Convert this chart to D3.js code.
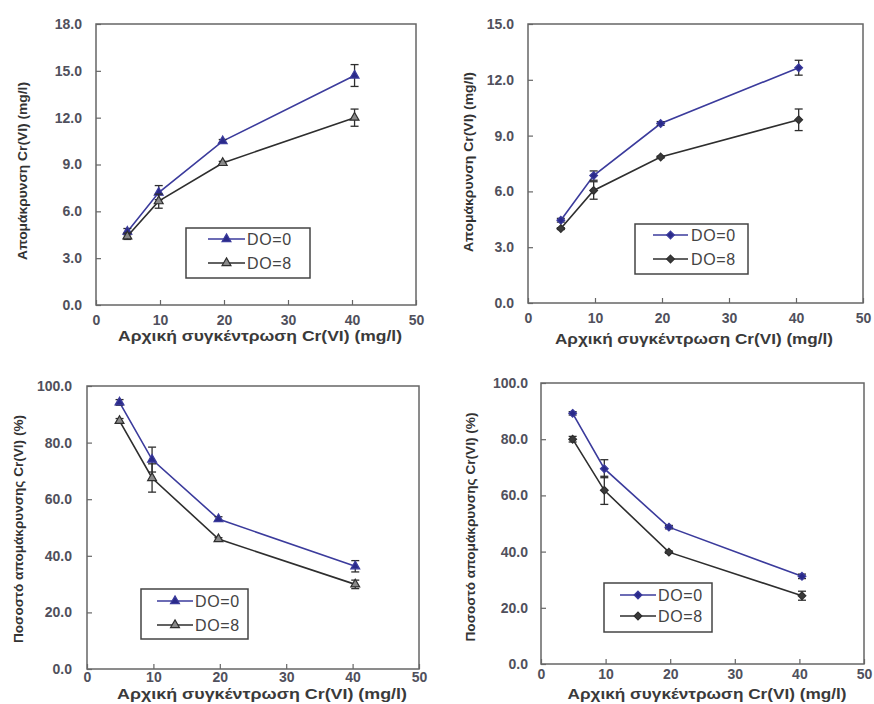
<!DOCTYPE html>
<html lang="el">
<head>
<meta charset="UTF-8">
<title>Cr(VI) removal</title>
<script src="https://cdnjs.cloudflare.com/ajax/libs/d3/7.9.0/d3.min.js"></script>
<style>
  body { margin: 0; background: #fff; }
  svg text { font-family: "Liberation Sans", Arial, sans-serif; }
</style>
</head>
<body>
<svg id="chart" width="874" height="704"></svg>
<script>
// initial Cr(VI) concentration (x values, mg/l)
const conc = [4.9, 9.8, 19.8, 40.4];
const seriesNames = ["DO=0", "DO=8"];

// panel A: removal (mg/l), triangles
const removalA_DO0 = [4.7, 7.2, 10.5, 14.7];
const removalA_DO0_err = [0.2, 0.45, 0.1, 0.7];
const removalA_DO8 = [4.4, 6.65, 9.1, 12.0];
const removalA_DO8_err = [0.2, 0.45, 0.1, 0.55];

// panel B: removal (mg/l), diamonds
const removalB_DO0 = [4.45, 6.85, 9.65, 12.65];
const removalB_DO0_err = [0.1, 0.25, 0.1, 0.4];
const removalB_DO8 = [4.0, 6.05, 7.85, 9.85];
const removalB_DO8_err = [0.05, 0.47, 0.05, 0.58];

// panel C: removal percent, triangles
const percentC_DO0 = [94.2, 74.0, 53.0, 36.3];
const percentC_DO0_err = [1.0, 4.4, 0.8, 2.0];
const percentC_DO8 = [87.7, 67.5, 45.9, 29.9];
const percentC_DO8_err = [0.8, 5.0, 0.5, 1.5];

// panel D: removal percent, diamonds
const percentD_DO0 = [89.2, 69.5, 48.7, 31.2];
const percentD_DO0_err = [0.6, 3.2, 0.6, 0.8];
const percentD_DO8 = [80.0, 61.8, 39.8, 24.3];
const percentD_DO8_err = [1.0, 5.0, 0.4, 1.6];

const xTicks = [0, 10, 20, 30, 40, 50];
const yTicksMg18 = [0, 3, 6, 9, 12, 15, 18];
const yTicksMg15 = [0, 3, 6, 9, 12, 15];
const yTicksPct = [0, 20, 40, 60, 80, 100];

const xTitle = "Αρχική συγκέντρωση Cr(VI) (mg/l)";
const yTitleMg = "Απομάκρυνση Cr(VI) (mg/l)";
const yTitlePct = "Ποσοστό απομάκρυνσης Cr(VI) (%)";

const blue = "#3b3b9c";
const dark = "#2e2e2e";

const svg = d3.select("#chart");

function drawPanel(p) {
  const x = d3.scaleLinear().domain([0, 50]).range([p.left, p.right]);
  const y = d3.scaleLinear().domain([0, p.yMax]).range([p.bottom, p.top]);
  const g = svg.append("g");

  // frame
  g.append("rect")
    .attr("x", p.left).attr("y", p.top)
    .attr("width", p.right - p.left).attr("height", p.bottom - p.top)
    .attr("fill", "none").attr("stroke", "#666").attr("stroke-width", 1.5);

  // axes with inward ticks
  const xa = g.append("g").attr("transform", `translate(0,${p.bottom})`)
    .call(d3.axisBottom(x).tickValues(xTicks).tickSize(-5).tickPadding(p.xPad).tickFormat(d3.format("d")));
  const ya = g.append("g").attr("transform", `translate(${p.left},0)`)
    .call(d3.axisLeft(y).tickValues(p.yTicks).tickSize(-5).tickPadding(p.yPad).tickFormat(d3.format(".1f")));
  [xa, ya].forEach(a => {
    a.select(".domain").remove();
    a.selectAll("line").attr("stroke", "#666").attr("stroke-width", 1.2);
    a.selectAll("text").attr("fill", "#50505c").style("font-size", "14px").style("font-weight", "bold");
  });
  xa.selectAll("text").attr("dy", "0.71em");

  // titles
  g.append("text")
    .attr("x", p.xTitleX).attr("y", p.xTitleY)
    .attr("text-anchor", "middle").attr("fill", "#3a3a3a")
    .attr("textLength", p.xTitleLen).attr("lengthAdjust", "spacingAndGlyphs")
    .style("font-size", "15px").style("font-weight", "bold")
    .text(xTitle);
  g.append("text")
    .attr("transform", `translate(${p.yTitleX},${p.yTitleY}) rotate(-90)`)
    .attr("text-anchor", "middle").attr("dy", "0.35em").attr("fill", "#333")
    .attr("textLength", p.yTitleLen).attr("lengthAdjust", "spacingAndGlyphs")
    .style("font-size", "13px").style("font-weight", "bold")
    .text(p.yTitle);

  const line = d3.line().x(d => x(d.x)).y(d => y(d.y));
  const shape = p.marker === "triangle" ? d3.symbolTriangle : d3.symbolDiamond2;
  const sym = d3.symbol().type(shape).size(p.marker === "triangle" ? 34 : 38);

  p.series.forEach((s, si) => {
    const pts = conc.map((c, i) => ({ x: c, y: s.values[i], e: s.err[i] }));
    g.append("path").datum(pts).attr("d", line)
      .attr("fill", "none").attr("stroke", s.color).attr("stroke-width", 1.6);

    // error bars
    const eb = g.append("g").attr("stroke", s.errColor).attr("stroke-width", 1.3);
    pts.forEach(d => {
      eb.append("line").attr("x1", x(d.x)).attr("x2", x(d.x)).attr("y1", y(d.y - d.e)).attr("y2", y(d.y + d.e));
      [d.y - d.e, d.y + d.e].forEach(v => {
        eb.append("line").attr("x1", x(d.x) - 4).attr("x2", x(d.x) + 4).attr("y1", y(v)).attr("y2", y(v));
      });
    });

    g.selectAll(null).data(pts).enter().append("path")
      .attr("d", sym)
      .attr("transform", d => `translate(${x(d.x)},${y(d.y)})`)
      .attr("fill", s.fill).attr("stroke", s.color).attr("stroke-width", 1.2);
  });

  // legend
  const L = p.legend;
  g.append("rect").attr("x", L.x).attr("y", L.y).attr("width", L.w).attr("height", L.h)
    .attr("fill", "#fff").attr("stroke", "#444").attr("stroke-width", 1.5);
  p.series.forEach((s, si) => {
    const ly = L.y + L.rowY[si];
    g.append("line").attr("x1", L.x + L.lineX0).attr("x2", L.x + L.lineX1).attr("y1", ly).attr("y2", ly)
      .attr("stroke", s.color).attr("stroke-width", 1.6);
    g.append("path").attr("d", sym)
      .attr("transform", `translate(${L.x + (L.lineX0 + L.lineX1) / 2},${ly})`)
      .attr("fill", s.fill).attr("stroke", s.color).attr("stroke-width", 1.2);
    g.append("text").attr("x", L.x + L.textX).attr("y", ly).attr("dy", "0.35em")
      .attr("fill", "#444").style("font-size", "16px").style("letter-spacing", "0.6px")
      .text(seriesNames[si]);
  });
}

drawPanel({
  left: 96, right: 416, top: 24, bottom: 305, yMax: 18, yTicks: yTicksMg18, xPad: 10, yPad: 14,
  yTitle: yTitleMg, yTitleX: 22, yTitleY: 171, yTitleLen: 178,
  xTitleX: 260, xTitleY: 341, xTitleLen: 284, marker: "triangle",
  series: [
    { values: removalA_DO0, err: removalA_DO0_err, color: blue, fill: "#2a2a8a", errColor: dark },
    { values: removalA_DO8, err: removalA_DO8_err, color: dark, fill: "#8a8a8a", errColor: dark }
  ],
  legend: { x: 186, y: 228, w: 124, h: 50, rowY: [11, 35], lineX0: 22, lineX1: 59, textX: 61 }
});

drawPanel({
  left: 528, right: 863, top: 24, bottom: 303, yMax: 15, yTicks: yTicksMg15, xPad: 10, yPad: 14,
  yTitle: yTitleMg, yTitleX: 468, yTitleY: 162, yTitleLen: 180,
  xTitleX: 694, xTitleY: 344, xTitleLen: 278, marker: "diamond",
  series: [
    { values: removalB_DO0, err: removalB_DO0_err, color: blue, fill: "#2a2a8a", errColor: dark },
    { values: removalB_DO8, err: removalB_DO8_err, color: dark, fill: "#3a3a3a", errColor: dark }
  ],
  legend: { x: 635, y: 224, w: 113, h: 50, rowY: [11, 35], lineX0: 18, lineX1: 53, textX: 56 }
});

drawPanel({
  left: 87, right: 419, top: 386, bottom: 669, yMax: 100, yTicks: yTicksPct, xPad: 3, yPad: 15,
  yTitle: yTitlePct, yTitleX: 18, yTitleY: 529, yTitleLen: 228,
  xTitleX: 262, xTitleY: 699, xTitleLen: 290, marker: "triangle",
  series: [
    { values: percentC_DO0, err: percentC_DO0_err, color: blue, fill: "#2a2a8a", errColor: dark },
    { values: percentC_DO8, err: percentC_DO8_err, color: dark, fill: "#8a8a8a", errColor: dark }
  ],
  legend: { x: 141, y: 589, w: 107, h: 50, rowY: [12, 36], lineX0: 16, lineX1: 52, textX: 54 }
});

drawPanel({
  left: 541, right: 864, top: 383, bottom: 664, yMax: 100, yTicks: yTicksPct, xPad: 5, yPad: 13,
  yTitle: yTitlePct, yTitleX: 470, yTitleY: 527, yTitleLen: 229,
  xTitleX: 707, xTitleY: 699, xTitleLen: 279, marker: "diamond",
  series: [
    { values: percentD_DO0, err: percentD_DO0_err, color: blue, fill: "#2a2a8a", errColor: dark },
    { values: percentD_DO8, err: percentD_DO8_err, color: dark, fill: "#3a3a3a", errColor: dark }
  ],
  legend: { x: 604, y: 583, w: 108, h: 49, rowY: [12, 33], lineX0: 16, lineX1: 52, textX: 54 }
});
</script>
</body>
</html>
